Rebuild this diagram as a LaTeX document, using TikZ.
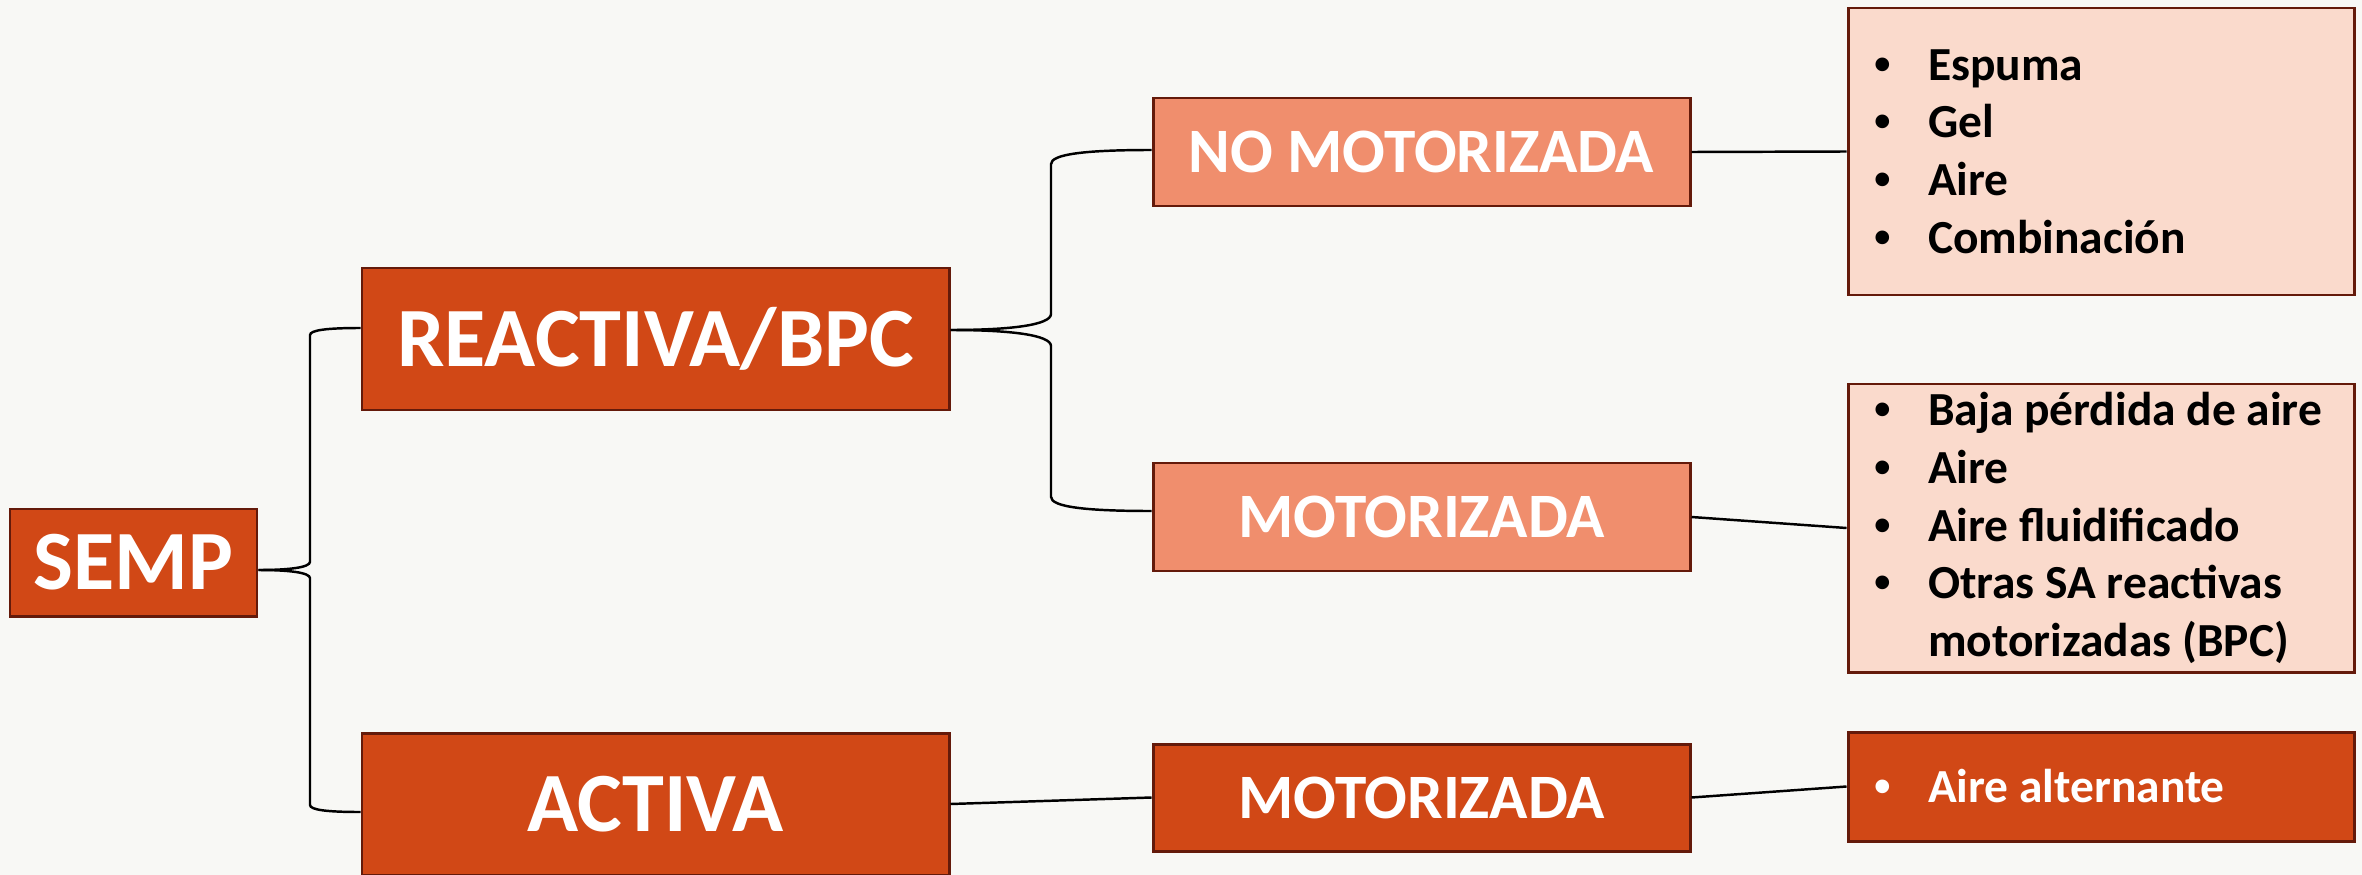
\documentclass[tikz,border=0pt]{standalone}
\usepackage{fontspec}
\setmainfont{Carlito}
\newfontfamily\bulfont{Liberation Sans}
\usetikzlibrary{calc}
\definecolor{bgpaper}{RGB}{248,248,245}
\definecolor{rust}{RGB}{209,72,22}
\definecolor{salmon}{RGB}{240,142,109}
\definecolor{blush}{RGB}{250,218,204}
\definecolor{edge}{RGB}{100,26,10}
% elbow connector: from, elbow, to
\newcommand\branch[3]{%
\draw[link] let \p1=(#1), \p2=(#2), \p3=(#3),
    \n1={\y3>\y1 ? 1 : -1}, \n2={\x2-\x1}, \n3={\x3-\x2} in
  (\p1) .. controls ({\x1+0.6*\n2}, \y1) and (\x2, {\y1+0.05*\n1*\n2}) .. (\x2, {\y1+0.16*\n1*\n2})
  -- (\x2, {\y3-0.14*\n1*\n3})
  .. controls (\x2, {\y3-0.04*\n1*\n3}) and ({\x2+0.35*\n3}, \y3) .. (\p3);
}
\newcommand\bul{\makebox[0.57cm][l]{\hspace{0.03cm}{\bulfont\textbullet}}}
\newcommand\nobul{\makebox[0.57cm][l]{}}

\begin{document}
\begin{tikzpicture}[
    box/.style={draw=edge, line width=0.85pt, inner sep=0pt, align=center},
    root/.style={box, fill=rust, text=white, font=\bfseries\fontsize{24}{28}\selectfont},
    sub/.style={box, fill=salmon, text=white, font=\bfseries\fontsize{18}{22}\selectfont},
    list/.style={box, fill=blush, text=black, align=left, text width=4.6cm, inner xsep=0.23cm,
      font=\bfseries\fontsize{13.5}{16.4}\selectfont},
    link/.style={draw=black, line width=0.7pt}]
	%% paper
	\fill[bgpaper] (0,0) rectangle (23.62,-8.75);
	\useasboundingbox (0,0) rectangle (23.62,-8.75);
	
	% first level
	\node[root, minimum width=2.47cm, minimum height=1.07cm] (semp) at (1.335,-5.625) {SEMP};
	\node[root, minimum width=5.87cm, minimum height=1.42cm] (reactiva) at (6.555,-3.39) {REACTIVA/BPC};
	\node[root, minimum width=5.87cm, minimum height=1.42cm] (activa) at (6.555,-8.04) {ACTIVA};
	
	% second level
	\node[sub, minimum width=5.37cm, minimum height=1.08cm] (nomot) at (14.215,-1.52) {NO MOTORIZADA};
	\node[sub, minimum width=5.37cm, minimum height=1.08cm] (mot) at (14.215,-5.17) {MOTORIZADA};
	\node[root, font=\bfseries\fontsize{18}{22}\selectfont, minimum width=5.37cm, minimum height=1.07cm] (motact) at (14.215,-7.975) {MOTORIZADA};
	
	% lists
	\node[list, minimum height=2.87cm] (lstnomot) at (21.01,-1.515)
	  {\spaceskip=0pt\relax\bul Espuma\\ \bul Gel\\ \bul Aire\\ \bul Combinación};
	\node[list, minimum height=2.88cm] (lstmot) at (21.01,-5.28)
	  {\spaceskip=0pt\relax\bul Baja pérdida de aire\\ \bul Aire\\ \bul Aire fluidificado\\ \bul Otras SA reactivas\\ \nobul motorizadas (BPC)};
	\node[list, fill=rust, text=white, minimum height=1.09cm] (lstact) at (21.01,-7.865)
	  {\spaceskip=0pt\relax\bul Aire alternante};
	
	% elbows
	\coordinate (k1) at (3.10,0);
	\coordinate (k2) at (10.51,0);
	\branch{$(semp.east)+(0,-0.075)$}{k1}{$(reactiva.west)+(0,0.11)$}
	\branch{$(semp.east)+(0,-0.075)$}{k1}{$(activa.west)+(0,-0.08)$}
	\branch{$(reactiva.east)+(0,0.09)$}{k2}{$(nomot.west)+(0,0.02)$}
	\branch{$(reactiva.east)+(0,0.09)$}{k2}{$(mot.west)+(0,0.06)$}
	
	% straight links
	\draw[link] (nomot.east) -- (lstnomot.west);
	\draw[link] (mot.east) -- (lstmot.west);
	\draw[link] (activa.east) -- (motact.west);
	\draw[link] (motact.east) -- (lstact.west);
\end{tikzpicture}
\end{document}
